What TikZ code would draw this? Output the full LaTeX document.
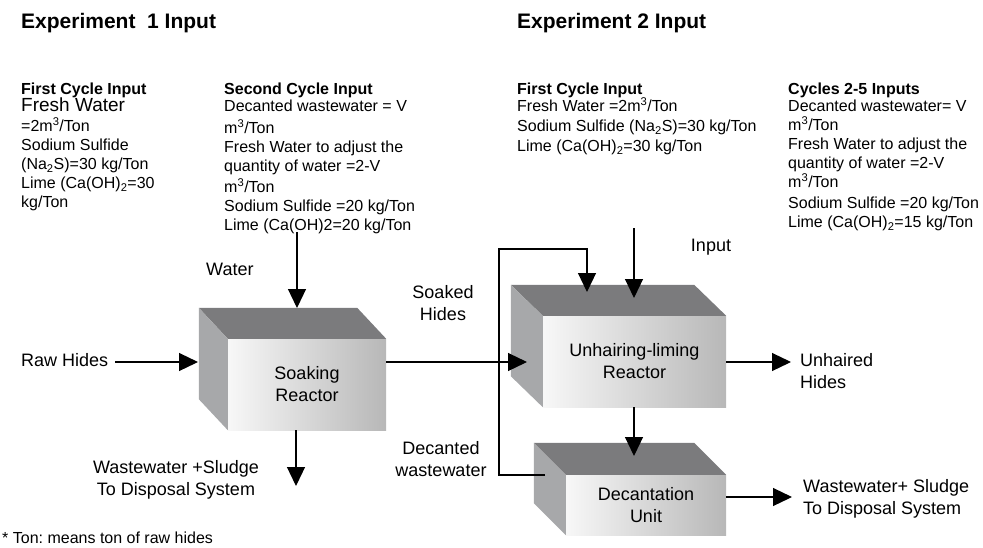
\documentclass[tikz,border=0pt]{standalone}
\usepackage{fontspec}
\setmainfont{Liberation Sans}
\usetikzlibrary{arrows.meta}
\definecolor{topc}{HTML}{7B7B7D}
\definecolor{sidec}{HTML}{A7A8AA}
\newcommand\cubefaces[3]{%
  \fill[topc] (#1.north west) -- ([shift={(#2,#3)}]#1.north west) -- ([shift={(#2,#3)}]#1.north east) -- (#1.north east) -- cycle;
  \fill[sidec] (#1.north west) -- ([shift={(#2,#3)}]#1.north west) -- ([shift={(#2,#3)}]#1.south west) -- (#1.south west) -- cycle;}
\frenchspacing
\begin{document}
\begin{tikzpicture}[x=1pt,y=-1pt,
  lbl/.style={font=\fontsize{18}{22}\selectfont, align=center, inner sep=0},
  body/.style={font=\fontsize{16}{19}\selectfont, align=left, inner sep=0, anchor=north west},
  ttl/.style={font=\fontsize{21}{25}\selectfont\bfseries, inner sep=0, anchor=west},
  front/.style={draw=none, left color=black!3, right color=black!28, inner sep=0,
    font=\fontsize{18}{22}\selectfont, align=center},
  arr/.style={line width=1.2pt, -{Triangle[length=19pt,width=18pt]}},
  line join=miter]
\useasboundingbox (0,0) rectangle (983,547);

% titles
\node[ttl] (t1) at (21,23) {Experiment\ \ 1 Input};
\node[ttl] (t2) at (517,23) {Experiment 2 Input};

% input blocks
\node[body] (b1) at (21,83) {\textbf{First Cycle Input}\\[-2pt]
  {\fontsize{19}{19}\selectfont Fresh Water}\\[1pt]
  =2m\textsuperscript{3}/Ton\\
  Sodium Sulfide\\
  (Na\textsubscript{2}S)=30 kg/Ton\\
  Lime (Ca(OH)\textsubscript{2}=30\\
  kg/Ton};
\node[body] (b2) at (224,83) {\textbf{Second Cycle Input}\\[-2pt]
  Decanted wastewater = V\\[3pt]
  m\textsuperscript{3}/Ton\\
  Fresh Water to adjust the\\
  quantity of water =2-V\\[2pt]
  m\textsuperscript{3}/Ton\\
  Sodium Sulfide =20 kg/Ton\\
  Lime (Ca(OH)2=20 kg/Ton};
\node[body] (b3) at (517,83) {\textbf{First Cycle Input}\\[-2pt]
  Fresh Water =2m\textsuperscript{3}/Ton\\[1pt]
  Sodium Sulfide (Na\textsubscript{2}S)=30 kg/Ton\\[1pt]
  Lime (Ca(OH)\textsubscript{2}=30 kg/Ton};
\node[body] (b4) at (788,83) {\textbf{Cycles 2-5 Inputs}\\[-2pt]
  Decanted wastewater= V\\
  m\textsuperscript{3}/Ton\\
  Fresh Water to adjust the\\
  quantity of water =2-V\\
  m\textsuperscript{3}/Ton\\[2pt]
  Sodium Sulfide =20 kg/Ton\\
  Lime (Ca(OH)\textsubscript{2}=15 kg/Ton};

% boxes
\node[front, minimum width=158pt, minimum height=91pt] (soak) at (307,384.5) {Soaking\\Reactor};
\node[front, minimum width=183pt, minimum height=91pt] (unh) at (634.5,361.5) {Unhairing-liming\\Reactor};
\node[front, minimum width=160pt, minimum height=60pt] (dec) at (646,505) {Decantation\\Unit};
\cubefaces{soak}{-29}{-31}
\cubefaces{unh}{-32}{-31}
\cubefaces{dec}{-32}{-32}

% labels
\node[lbl, anchor=west] (rawt) at (21,360) {Raw Hides};
\node[lbl, anchor=west] (watt) at (206,269) {Water};
\node[lbl] (soakt) at (443,303) {Soaked\\Hides};
\node[lbl] (dect) at (441,459) {Decanted\\wastewater};
\node[lbl] (inpt) at (711,247) {Input};
\node[lbl] (wwl) at (176,480) {Wastewater +Sludge\\To Disposal System};
\node[lbl, anchor=west, align=left] (unht) at (800,371) {Unhaired\\Hides};
\node[lbl, anchor=west, align=left] (wwr) at (803,499) {Wastewater+ Sludge\\To Disposal System};
\node[font=\fontsize{16}{19}\selectfont, inner sep=0, anchor=west] (note) at (2,538) {* Ton: means ton of raw hides};

% connector coordinates
\coordinate (rawend) at (198,362);
\coordinate (wstart) at (297,232);
\coordinate (wend) at (297,308);
\coordinate (sdown) at (296,486);
\coordinate (unhin) at (527,362);
\coordinate (inA) at (634,228);
\coordinate (inB) at (634,298);
\coordinate (unhout) at (791,362);
\coordinate (decin) at (634,456);
\coordinate (decout) at (792,497);
\coordinate (fbA) at (545,475);
\coordinate (fbB) at (499,475);
\coordinate (fbC) at (499,249);
\coordinate (fbD) at (587,249);
\coordinate (fbE) at (587,292);

% connectors
\draw[arr] ([xshift=7pt]rawt.east |- rawend) -- (rawend);
\draw[arr] (wstart) -- (wend);
\draw[arr] (soak.south -| sdown) -- (sdown);
\draw[arr] (soak.east |- unhin) -- (unhin);
\draw[arr] (inA) -- (inB);
\draw[arr] (unh.east |- unhout) -- (unhout);
\draw[arr] (unh.south -| decin) -- (decin);
\draw[arr] (dec.east |- decout) -- (decout);
\draw[arr] (fbA) -- (fbB) -- (fbC) -- (fbD) -- (fbE);
\end{tikzpicture}
\end{document}
